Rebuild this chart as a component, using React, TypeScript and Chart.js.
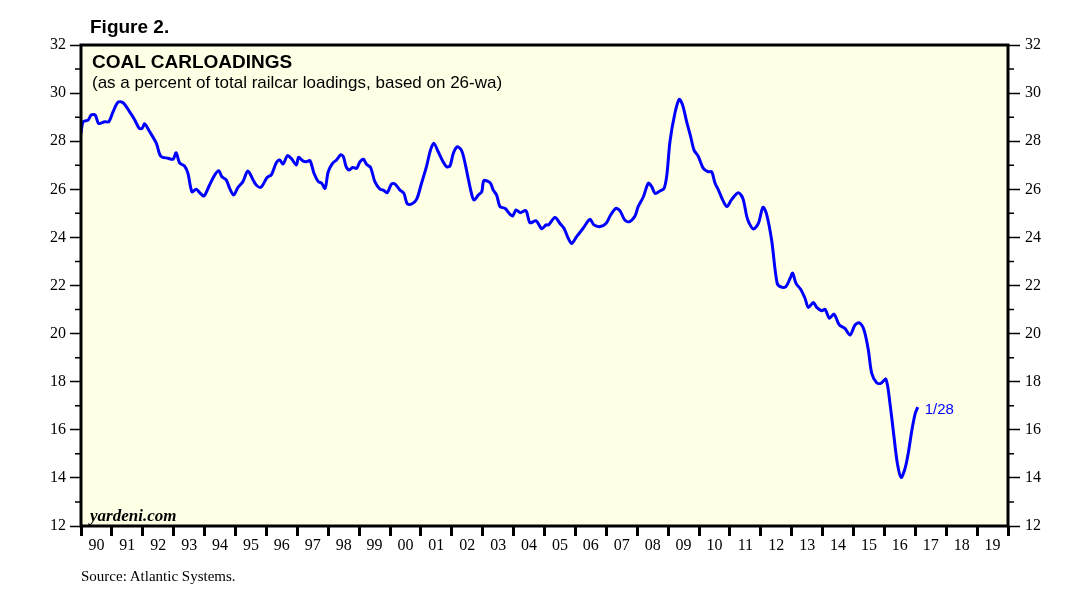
import React, { useEffect, useRef } from 'react';
import { Chart, registerables } from 'chart.js';

Chart.register(...registerables);

// Decimal-year dates and coal carloadings share (% of total railcar loadings, 26-wa)
const dates = [
  1990.0, 1990.07, 1990.23, 1990.33, 1990.46, 1990.57, 1990.77, 1990.9,
  1991.04, 1991.2, 1991.36, 1991.57, 1991.74, 1991.88, 1991.98,
  1992.06, 1992.22, 1992.44, 1992.58, 1992.82, 1992.98,
  1993.08, 1993.19, 1993.35, 1993.46, 1993.59, 1993.73, 1993.84, 1993.98,
  1994.16, 1994.33, 1994.46, 1994.56, 1994.7, 1994.81, 1994.94,
  1995.08, 1995.24, 1995.4, 1995.57, 1995.67, 1995.82,
  1996.03, 1996.16, 1996.32, 1996.43, 1996.54, 1996.68, 1996.8, 1996.97,
  1997.04, 1997.18, 1997.29, 1997.41, 1997.54, 1997.68, 1997.79, 1997.9,
  1998.0, 1998.14, 1998.27, 1998.4, 1998.49, 1998.58, 1998.68, 1998.79, 1998.92,
  1999.03, 1999.14, 1999.24, 1999.37, 1999.51, 1999.68, 1999.78, 1999.91,
  2000.05, 2000.16, 2000.32, 2000.45, 2000.56, 2000.7, 2000.86,
  2001.02, 2001.18, 2001.31, 2001.42, 2001.56, 2001.7, 2001.83, 2001.94,
  2002.05, 2002.18, 2002.32, 2002.43, 2002.54, 2002.65, 2002.72, 2002.86, 2002.97,
  2003.04, 2003.24, 2003.34, 2003.45, 2003.56, 2003.72, 2003.88, 2003.97,
  2004.08, 2004.21, 2004.4, 2004.53, 2004.73, 2004.91,
  2005.05, 2005.13, 2005.34, 2005.5, 2005.63, 2005.77, 2005.88,
  2006.04, 2006.25, 2006.47, 2006.6, 2006.8, 2006.99,
  2007.14, 2007.31, 2007.44, 2007.6, 2007.74, 2007.93,
  2008.03, 2008.2, 2008.36, 2008.47, 2008.58, 2008.74, 2008.87, 2008.96,
  2009.06, 2009.22, 2009.36, 2009.47, 2009.6, 2009.73, 2009.84, 2009.98,
  2010.14, 2010.3, 2010.41, 2010.52, 2010.63, 2010.77, 2010.9,
  2011.06, 2011.27, 2011.42, 2011.54, 2011.62, 2011.76, 2011.92,
  2012.07, 2012.19, 2012.35, 2012.53, 2012.67, 2012.81, 2012.95,
  2013.03, 2013.14, 2013.29, 2013.43, 2013.54, 2013.7, 2013.81, 2013.97,
  2014.08, 2014.22, 2014.37, 2014.54, 2014.72, 2014.89,
  2015.05, 2015.19, 2015.34, 2015.48, 2015.59, 2015.75, 2015.88,
  2016.05, 2016.18, 2016.31, 2016.42, 2016.54, 2016.67, 2016.78, 2016.89,
  2017.0, 2017.08,
];

const values = [
  28.33, 28.81, 28.88, 29.09, 29.09, 28.74, 28.81, 28.81,
  29.23, 29.62, 29.6, 29.23, 28.88, 28.54, 28.54,
  28.72, 28.4, 27.91, 27.38, 27.29, 27.25,
  27.52, 27.1, 26.97, 26.67, 25.9, 26.0, 25.86, 25.72,
  26.18, 26.6, 26.77, 26.52, 26.39, 26.04, 25.76,
  26.08, 26.32, 26.76, 26.39, 26.18, 26.08,
  26.5, 26.6, 27.1, 27.22, 27.05, 27.4, 27.29, 27.01,
  27.33, 27.18, 27.15, 27.19, 26.67, 26.32, 26.25, 26.04,
  26.73, 27.08, 27.22, 27.43, 27.36, 26.94, 26.8, 26.91, 26.87,
  27.15, 27.25, 27.04, 26.91, 26.32, 26.0, 25.97, 25.86,
  26.22, 26.22, 25.97, 25.83, 25.39, 25.39, 25.58,
  26.25, 26.94, 27.63, 27.91, 27.56, 27.19, 26.94, 26.97,
  27.5, 27.77, 27.6, 27.08, 26.39, 25.76, 25.55, 25.76, 25.9,
  26.36, 26.27, 25.97, 25.76, 25.28, 25.21, 24.97, 24.89,
  25.14, 25.03, 25.11, 24.61, 24.69, 24.36,
  24.52, 24.52, 24.83, 24.58, 24.38, 23.96, 23.75,
  24.03, 24.38, 24.75, 24.52, 24.45, 24.58,
  24.93, 25.21, 25.11, 24.72, 24.65, 24.89,
  25.28, 25.69, 26.25, 26.11, 25.83, 25.93, 26.04, 26.6,
  27.98, 29.16, 29.74, 29.5, 28.81, 28.19, 27.63, 27.36,
  26.87, 26.73, 26.73, 26.25, 25.97, 25.55, 25.28,
  25.58, 25.86, 25.62, 24.9, 24.6, 24.35, 24.58,
  25.25, 24.95, 23.89, 22.09, 21.93, 21.95, 22.3,
  22.51, 22.09, 21.84, 21.47, 21.09, 21.29, 21.09, 20.95,
  21.01, 20.64, 20.81, 20.36, 20.22, 19.94,
  20.36, 20.45, 20.15, 19.32, 18.35, 17.96, 17.93,
  18.1, 17.1, 15.71, 14.6, 14.02, 14.4, 15.09, 15.99,
  16.69, 16.94,
];

const yearLabels = [
  '90', '91', '92', '93', '94', '95', '96', '97', '98', '99',
  '00', '01', '02', '03', '04', '05', '06', '07', '08', '09',
  '10', '11', '12', '13', '14', '15', '16', '17', '18', '19',
];

const xMin = 1990;
const xMax = 2020;
const yMin = 12;
const yMax = 32;
const lastLabel = '1/28';

const BG = '#FFFFE6';
const LINE = '#0000FF';
const SERIF = '"Liberation Serif", "Times New Roman", serif';
const SANS = '"Liberation Sans", Arial, sans-serif';

export default function App() {
  const ref = useRef<HTMLCanvasElement>(null);

  useEffect(() => {
    const canvas = ref.current;
    if (!canvas) return;

    const decor = {
      id: 'decor',
      beforeDraw(chart: any) {
        const { ctx, chartArea: a } = chart;
        ctx.save();
        ctx.fillStyle = BG;
        ctx.fillRect(a.left, a.top, a.right - a.left, a.bottom - a.top);
        ctx.restore();
      },
      afterDraw(chart: any) {
        const { ctx, chartArea: a } = chart;
        const ys = chart.scales.y;
        ctx.save();
        // minor ticks
        ctx.strokeStyle = '#000';
        ctx.lineWidth = 1.5;
        for (let v = yMin; v <= yMax; v++) {
          if (v % 2 === 0) continue;
          const py = ys.getPixelForValue(v);
          ctx.beginPath();
          ctx.moveTo(a.left - 6, py);
          ctx.lineTo(a.left, py);
          ctx.moveTo(a.right, py);
          ctx.lineTo(a.right + 6, py);
          ctx.stroke();
        }
        // frame
        ctx.lineWidth = 3;
        ctx.strokeRect(a.left, a.top, a.right - a.left, a.bottom - a.top);
        // end label
        const meta = chart.getDatasetMeta(0);
        const last = meta.data[meta.data.length - 1];
        if (last) {
          ctx.fillStyle = LINE;
          ctx.font = `15px ${SANS}`;
          ctx.textAlign = 'left';
          ctx.textBaseline = 'alphabetic';
          ctx.fillText(lastLabel, last.x + 7, last.y + 7);
        }
        ctx.restore();
      },
    };

    const yAxis = (pos: 'left' | 'right', w: number, tl: number, pad: number) => ({
      type: 'linear' as const,
      position: pos,
      min: yMin,
      max: yMax,
      afterFit: (s: any) => {
        s.width = w;
      },
      border: { display: false },
      grid: {
        drawOnChartArea: false,
        drawTicks: true,
        tickLength: tl,
        tickWidth: 1.5,
        tickColor: (c: any) => (c.tick && c.tick.value % 2 === 0 ? '#000' : 'rgba(0,0,0,0)'),
      },
      ticks: {
        stepSize: 1,
        autoSkip: false,
        padding: pad,
        color: '#000',
        font: { family: SERIF, size: 16 },
        callback: (v: any) => (Number(v) % 2 === 0 ? String(v) : ''),
      },
    });

    const chart = new Chart(canvas, {
      type: 'line',
      data: {
        datasets: [
          {
            data: dates.map((d, i) => ({ x: d, y: values[i] })),
            borderColor: LINE,
            borderWidth: 3,
            pointRadius: 0,
            tension: 0.3,
            fill: false,
          },
        ],
      },
      options: {
        animation: false,
        responsive: false,
        maintainAspectRatio: false,
        layout: { padding: { top: 45, left: 0, right: 0, bottom: 0 } },
        plugins: {
          legend: { display: false },
          tooltip: { enabled: false },
          title: { display: false },
        },
        scales: {
          x: {
            type: 'linear',
            min: xMin,
            max: xMax,
            afterFit: (s: any) => {
              s.height = 79;
            },
            border: { display: false },
            grid: {
              drawOnChartArea: false,
              drawTicks: true,
              tickLength: 10,
              tickWidth: 3,
              tickColor: '#000',
            },
            ticks: {
              stepSize: 1,
              autoSkip: false,
              maxRotation: 0,
              minRotation: 0,
              padding: 0,
              labelOffset: 15.45,
              color: '#000',
              font: { family: SERIF, size: 16 },
              callback: (_v: any, i: number) => yearLabels[i] ?? '',
            },
          },
          y: yAxis('left', 81, 11, 4),
          y2: yAxis('right', 82, 12, 5),
        },
      },
      plugins: [decor],
    });

    return () => chart.destroy();
  }, []);

  const txt = (extra: React.CSSProperties): React.CSSProperties => ({
    position: 'absolute',
    whiteSpace: 'nowrap',
    lineHeight: 1,
    color: '#000',
    ...extra,
  });

  return (
    <div style={{ position: 'absolute', left: 0, top: 0, width: 1090, height: 605, background: '#fff' }}>
      <canvas ref={ref} width={1090} height={605} style={{ display: 'block', width: 1090, height: 605 }} />
      <div style={txt({ left: 90, top: 17, fontFamily: SANS, fontWeight: 'bold', fontSize: 19 })}>Figure 2.</div>
      <div style={txt({ left: 92, top: 52, fontFamily: SANS, fontWeight: 'bold', fontSize: 19 })}>COAL CARLOADINGS</div>
      <div style={txt({ left: 92, top: 74, fontFamily: SANS, fontSize: 17 })}>
        (as a percent of total railcar loadings, based on 26-wa)
      </div>
      <div style={txt({ left: 90, top: 507, fontFamily: SERIF, fontWeight: 'bold', fontStyle: 'italic', fontSize: 17 })}>
        yardeni.com
      </div>
      <div style={txt({ left: 81, top: 569, fontFamily: SERIF, fontSize: 15 })}>Source: Atlantic Systems.</div>
    </div>
  );
}
